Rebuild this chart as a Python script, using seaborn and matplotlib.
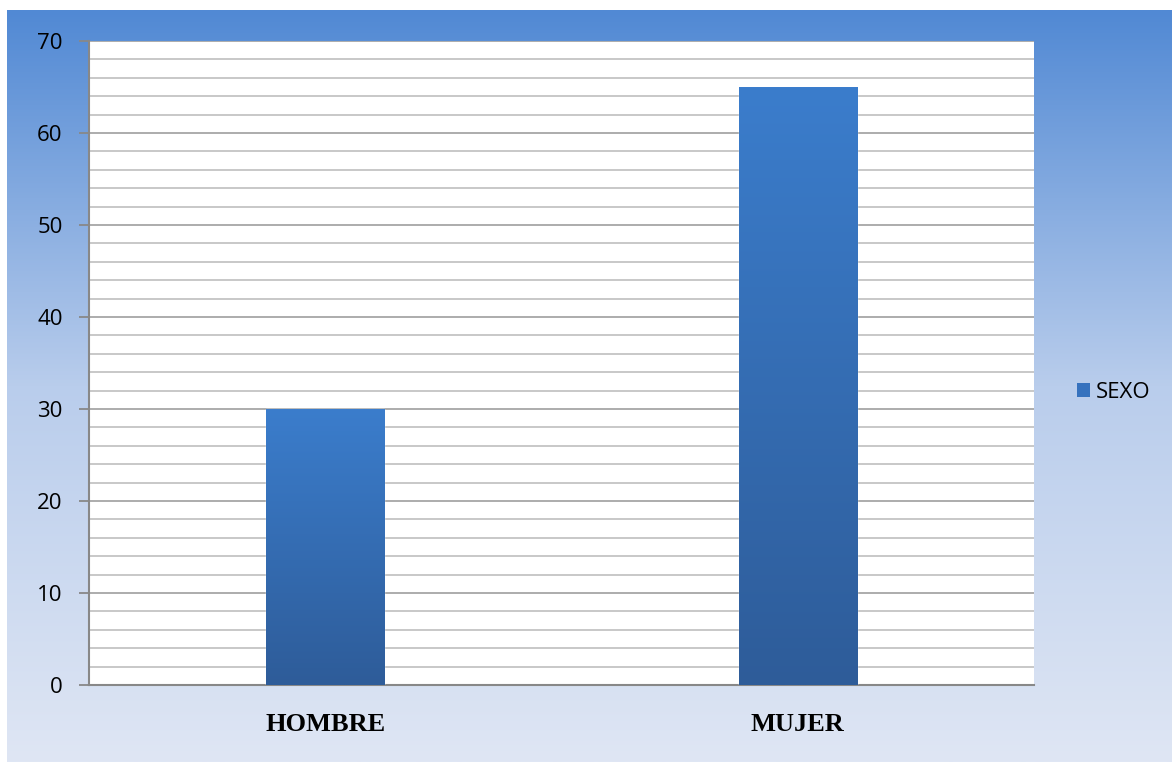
import numpy as np
import pandas as pd
import matplotlib
matplotlib.use('Agg')
import matplotlib.pyplot as plt
from matplotlib.colors import LinearSegmentedColormap
import seaborn as sns

sns.set_theme(style='white')
plt.rcParams['font.family'] = ['Open Sans', 'DejaVu Sans']

categorias = ['HOMBRE', 'MUJER']
valores = [30, 65]
serie = 'SEXO'

df = pd.DataFrame({'cat': categorias, 'val': valores, 'serie': serie})

fig = plt.figure(figsize=(11.72, 7.62), dpi=100)
W, H = 1172, 762

# fondo degradado
bg = fig.add_axes([7 / W, 0, 1 - 7 / W, 1 - 10 / H], zorder=-1)
cmap_bg = LinearSegmentedColormap.from_list('bg', ['#5189d4', '#b9cdec', '#dfe6f4'])
grad = np.linspace(0, 1, 256).reshape(-1, 1)
bg.imshow(grad, aspect='auto', cmap=cmap_bg, extent=[0, 1, 0, 1], origin='upper')
bg.set_axis_off()

ax = fig.add_axes([89 / W, 1 - 685 / H, (1034 - 89) / W, (685 - 41) / H])
ax.set_facecolor('white')
sns.barplot(data=df, x='cat', y='val', hue='serie', palette=['#3a7bc8'],
            width=0.25, ax=ax, zorder=3, legend=False)

ax.set_ylim(0, 70)
ax.set_xlim(-0.5, 1.5)
ax.set_yticks(np.arange(0, 71, 10))
ax.set_yticks(np.arange(0, 71, 2), minor=True)
ax.grid(axis='y', which='minor', color='#c4c4c4', lw=1.3, zorder=0)
ax.grid(axis='y', which='major', color='#a6a6a6', lw=1.3, zorder=0)
ax.set_axisbelow(True)
for s in ['top', 'right']:
    ax.spines[s].set_visible(False)
for s in ['left', 'bottom']:
    ax.spines[s].set_color('#888888')
    ax.spines[s].set_linewidth(1.5)
ax.tick_params(axis='y', which='major', length=7, color='#888888', width=1.3,
               labelsize=16, pad=12, left=True, labelcolor='black')
ax.tick_params(axis='y', which='minor', length=0)
ax.tick_params(axis='x', length=0, pad=20, labelsize=19, labelcolor='black')
ax.set_xticks(range(len(categorias)))
ax.set_xticklabels(categorias, fontfamily=['Liberation Serif', 'DejaVu Serif'],
                   fontweight='bold', fontsize=19)
ax.set_xlabel('')
ax.set_ylabel('')

# degradado en barras
cmap_bar = LinearSegmentedColormap.from_list('bar', ['#2e5c99', '#3b7dcc'])
for p in ax.patches:
    x0, y0 = p.get_x(), p.get_y()
    w, h = p.get_width(), p.get_height()
    im = ax.imshow(np.linspace(0, 1, 256).reshape(-1, 1), aspect='auto', cmap=cmap_bar,
                   extent=[x0, x0 + w, y0, y0 + h], origin='lower', zorder=3.5)
    im.set_clip_path(p)
ax.set_xlim(-0.5, 1.5)
ax.set_ylim(0, 70)

handle = plt.Rectangle((0, 0), 1, 1, facecolor='#3672be', edgecolor='none')
fig.legend([handle], [serie], loc='center left', bbox_to_anchor=(1077 / W, 1 - 392 / H),
           frameon=False, fontsize=16, handlelength=0.6, handleheight=0.6,
           handletextpad=0.25, borderpad=0, borderaxespad=0, labelcolor='black')

fig.savefig('out.png', dpi=100)
